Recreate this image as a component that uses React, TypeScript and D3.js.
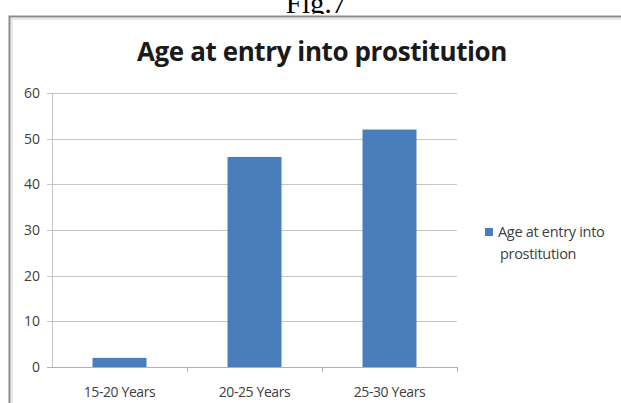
import * as d3 from 'd3'

const categories = ['15-20 Years', '20-25 Years', '25-30 Years']
const values = [2, 46, 52]
const yTickValues = [0, 10, 20, 30, 40, 50, 60]
const seriesName = 'Age at entry into prostitution'
const legendLines = ['Age at entry into', 'prostitution']
const figLabel = 'Fig.7'

export default function App() {
  const width = 621
  const height = 403
  const plot = { left: 52, right: 457, top: 93, bottom: 367 }

  const x = d3.scaleBand().domain(categories).range([plot.left, plot.right]).paddingInner(0).paddingOuter(0)
  const y = d3.scaleLinear().domain([0, 60]).range([plot.bottom, plot.top])
  const barW = x.bandwidth() * 0.4

  return (
    <svg
      width={width}
      height={height}
      style={{ position: 'absolute', left: 0, top: 0, background: '#fff' }}
      fontFamily="'Open Sans', sans-serif"
    >
      <text x={316} y={13} textAnchor="middle" fontFamily="'Liberation Serif', serif" fontSize={29} fill="#000">
        {figLabel}
      </text>
      {/* chart frame */}
      <rect x={0} y={14} width={width} height={height} fill="#fff" />
      <path d={`M9.5,${height}V16.5H${width}`} fill="none" stroke="#8c8c8c" strokeWidth={2} />
      <path d={`M12,${height}V19H${width}`} fill="none" stroke="#e8e8e8" strokeWidth={2} />

      <text x={322} y={61} textAnchor="middle" fontSize={26} fontWeight="bold" fill="#1a1a1a" letterSpacing={-0.4}>
        {seriesName}
      </text>

      {/* gridlines + y axis */}
      <g fontSize={14} fill="#404040">
        {yTickValues.map((t) => (
          <g key={t} transform={`translate(0,${Math.round(y(t)) + 0.5})`}>
            <line x1={plot.left - 5} x2={plot.right} stroke={t === 0 ? '#b0b0b0' : '#c4c4c4'} />
            <text x={plot.left - 12} dy="0.35em" textAnchor="end">
              {t}
            </text>
          </g>
        ))}
        <line x1={plot.left + 0.5} x2={plot.left + 0.5} y1={plot.top} y2={plot.bottom} stroke="#c4c4c4" />
      </g>

      {/* category ticks + bars + labels */}
      <g fontSize={14} fill="#404040">
        {categories.map((c, i) => (
          <g key={c}>
            <line
              x1={Math.round(x(c)! + x.bandwidth()) + 0.5}
              x2={Math.round(x(c)! + x.bandwidth()) + 0.5}
              y1={plot.bottom}
              y2={plot.bottom + 5}
              stroke="#b0b0b0"
            />
            <text x={x(c)! + x.bandwidth() / 2} y={plot.bottom + 30} textAnchor="middle" letterSpacing={-0.4}>
              {c}
            </text>
            <rect
              x={x(c)! + x.bandwidth() / 2 - barW / 2}
              y={y(values[i])}
              width={barW}
              height={y(0) - y(values[i])}
              fill="#4a7ebb"
            />
          </g>
        ))}
      </g>

      {/* legend */}
      <g fontSize={14.5} fill="#404040" letterSpacing={-0.3}>
        <rect x={485} y={228} width={8} height={8} fill="#4a7ebb" />
        <text x={498} y={237}>{legendLines[0]}</text>
        <text x={500} y={259}>{legendLines[1]}</text>
      </g>
    </svg>
  )
}
